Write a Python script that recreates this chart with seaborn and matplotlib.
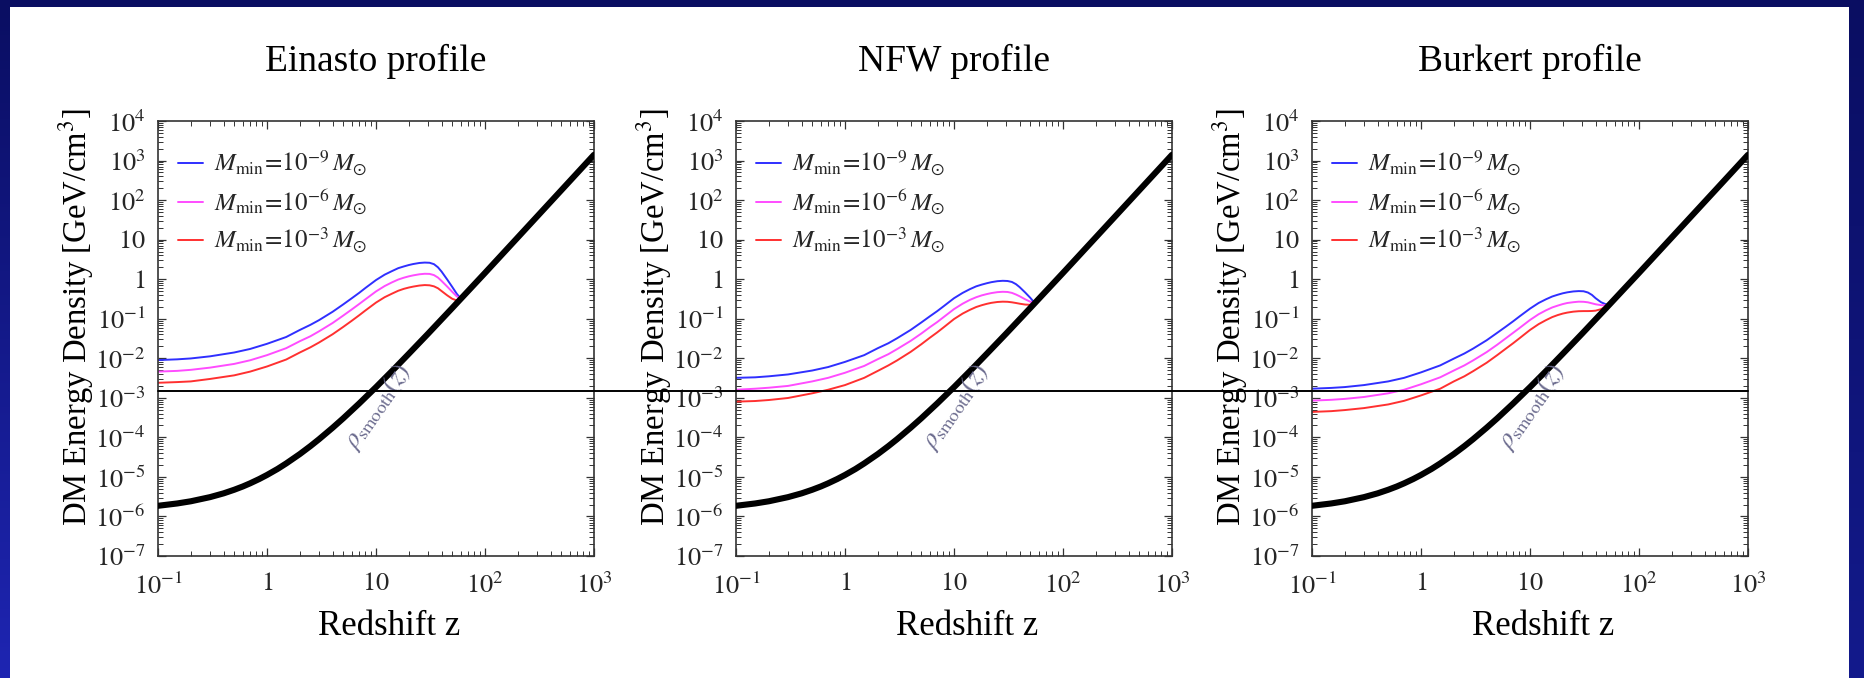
import numpy as np
import pandas as pd
import matplotlib
matplotlib.use('Agg')
import matplotlib.pyplot as plt
import seaborn as sns
from matplotlib.lines import Line2D
from matplotlib.patches import Rectangle
from matplotlib.ticker import FixedLocator, LogLocator, NullFormatter

# ---------------- data ----------------
TITLES = ['Einasto profile', 'NFW profile', 'Burkert profile']
LEGEND_LABELS = [r'$M_{\rm min}\!=\!10^{-9}\,M_{\odot}$',
                 r'$M_{\rm min}\!=\!10^{-6}\,M_{\odot}$',
                 r'$M_{\rm min}\!=\!10^{-3}\,M_{\odot}$']
X_LABEL = 'Redshift z'
Y_LABEL = r'DM Energy Density [GeV/cm$^3$]'
SMOOTH_LABEL = r'$\rho_{\rm smooth}(z)$'

X_TICKS = [0.1, 1, 10, 100, 1000]
X_TICK_LABELS = [r'$10^{-1}$', r'$1$', r'$10$', r'$10^{2}$', r'$10^{3}$']
Y_TICKS = [1e-7, 1e-6, 1e-5, 1e-4, 1e-3, 1e-2, 1e-1, 1, 10, 1e2, 1e3, 1e4]
Y_TICK_LABELS = [r'$10^{-7}$', r'$10^{-6}$', r'$10^{-5}$', r'$10^{-4}$', r'$10^{-3}$',
                 r'$10^{-2}$', r'$10^{-1}$', r'$1$', r'$10$', r'$10^{2}$', r'$10^{3}$',
                 r'$10^{4}$']

# smooth background density (thick black curve)
BLACK_Z = [0.1, 0.15, 0.2, 0.3, 0.4, 0.5, 0.6, 0.7, 0.85, 1, 1.25, 1.5, 2, 2.5, 3,
           4, 5, 7, 10, 15, 20, 30, 50, 100, 200, 500, 1000]
BLACK_RHO = [1.86e-6, 2.13e-6, 2.42e-6, 3.08e-6, 3.84e-6, 4.73e-6, 5.73e-6, 6.88e-6,
             8.86e-6, 1.12e-5, 1.59e-5, 2.19e-5, 3.78e-5, 6.0e-5, 8.96e-5, 1.75e-4,
             3.02e-4, 7.17e-4, 1.86e-3, 5.73e-3, 1.30e-2, 4.17e-2, 0.186, 1.44, 11.4,
             176, 1400]

# horizontal reference line across the three panels
HLINE_RHO = 1.5e-3

# Einasto
EIN_Z = [0.1, 0.15, 0.2, 0.3, 0.5, 0.7, 1, 1.5, 2, 2.5, 3, 4, 5, 6, 7, 8, 10, 12,
         14, 16, 18, 20, 22, 25, 28, 31, 34, 37, 40, 45, 50, 55, 60]
EIN_BLUE = [0.0090, 0.0094, 0.0099, 0.0112, 0.0140, 0.0172, 0.0232, 0.0345, 0.052,
            0.070, 0.092, 0.15, 0.23, 0.33, 0.45, 0.60, 0.95, 1.3, 1.6, 1.9, 2.1,
            2.28, 2.42, 2.57, 2.63, 2.6, 2.4, 2.0, 1.55, 0.98, 0.64, 0.43, 0.32]
EIN_PINK = [0.0046, 0.0048, 0.0051, 0.0058, 0.0072, 0.0089, 0.012, 0.018, 0.027,
            0.036, 0.048, 0.078, 0.12, 0.172, 0.235, 0.31, 0.49, 0.67, 0.83, 0.98,
            1.09, 1.18, 1.25, 1.33, 1.37, 1.36, 1.27, 1.1, 0.9, 0.65, 0.48, 0.37, 0.32]
EIN_RED = [0.0024, 0.0025, 0.0026, 0.0030, 0.0037, 0.0046, 0.0062, 0.0093, 0.014,
           0.0189, 0.025, 0.0405, 0.062, 0.089, 0.122, 0.162, 0.256, 0.35, 0.43,
           0.51, 0.57, 0.615, 0.65, 0.69, 0.71, 0.70, 0.66, 0.59, 0.5, 0.39, 0.32,
           0.29, 0.32]

# NFW
NFW_Z = [0.1, 0.15, 0.2, 0.3, 0.5, 0.7, 1, 1.5, 2, 2.5, 3, 4, 5, 6, 7, 8, 10, 12,
         14, 16, 18, 20, 22, 25, 28, 31, 34, 37, 40, 45, 50, 55]
NFW_BLUE = [0.0032, 0.0033, 0.0035, 0.0039, 0.0049, 0.0060, 0.0081, 0.012, 0.018,
            0.024, 0.032, 0.052, 0.08, 0.115, 0.155, 0.205, 0.33, 0.45, 0.56, 0.66,
            0.73, 0.79, 0.84, 0.89, 0.91, 0.9, 0.85, 0.75, 0.63, 0.46, 0.34, 0.25]
NFW_PINK = [0.0016, 0.0017, 0.0018, 0.0020, 0.0026, 0.0032, 0.0043, 0.0064, 0.0095,
            0.0127, 0.017, 0.0275, 0.042, 0.061, 0.082, 0.109, 0.175, 0.24, 0.30,
            0.35, 0.39, 0.42, 0.445, 0.47, 0.48, 0.475, 0.45, 0.41, 0.37, 0.31, 0.27,
            0.25]
NFW_RED = [0.0008, 0.00083, 0.00088, 0.00099, 0.0013, 0.0016, 0.0021, 0.0032,
           0.0048, 0.0066, 0.0088, 0.0145, 0.0225, 0.033, 0.045, 0.06, 0.098, 0.135,
           0.168, 0.198, 0.22, 0.238, 0.252, 0.265, 0.27, 0.268, 0.26, 0.25, 0.24,
           0.228, 0.225, 0.25]

# Burkert
BUR_Z = [0.1, 0.15, 0.2, 0.3, 0.5, 0.7, 1, 1.5, 2, 2.5, 3, 4, 5, 6, 7, 8, 10, 12,
         14, 16, 18, 20, 22, 25, 28, 31, 34, 37, 40, 45, 52]
BUR_BLUE = [0.0017, 0.00178, 0.00187, 0.0021, 0.0026, 0.0032, 0.0044, 0.0066,
            0.0098, 0.0132, 0.0175, 0.0285, 0.044, 0.063, 0.086, 0.114, 0.18, 0.25,
            0.31, 0.365, 0.405, 0.44, 0.465, 0.49, 0.5, 0.495, 0.46, 0.4, 0.33, 0.26,
            0.22]
BUR_PINK = [0.00085, 0.00089, 0.00094, 0.00105, 0.0013, 0.0016, 0.0022, 0.0033,
            0.0049, 0.0066, 0.0088, 0.0143, 0.022, 0.032, 0.044, 0.058, 0.093, 0.13,
            0.163, 0.193, 0.215, 0.235, 0.25, 0.262, 0.27, 0.268, 0.26, 0.245, 0.232,
            0.22, 0.22]
BUR_RED = [0.00044, 0.00046, 0.00049, 0.00055, 0.00068, 0.00084, 0.00115, 0.0017,
           0.0026, 0.0035, 0.0047, 0.0077, 0.012, 0.0175, 0.024, 0.032, 0.052, 0.073,
           0.092, 0.11, 0.124, 0.135, 0.143, 0.151, 0.155, 0.156, 0.156, 0.157, 0.16,
           0.175, 0.22]

PANELS = [
    (EIN_Z, [EIN_BLUE, EIN_PINK, EIN_RED]),
    (NFW_Z, [NFW_BLUE, NFW_PINK, NFW_RED]),
    (BUR_Z, [BUR_BLUE, BUR_PINK, BUR_RED]),
]
SERIES_COLORS = ['#2f2fff', '#ff4cff', '#ff3030']

# ---------------- style ----------------
sns.set_theme(style='white')
plt.rcParams['font.family'] = ['Liberation Serif', 'DejaVu Serif']
plt.rcParams['mathtext.fontset'] = 'stix'

W, H = 1865, 678
fig = plt.figure(figsize=(W / 100, H / 100), dpi=100)
fig.patch.set_facecolor('white')

# navy slide frame
fig.add_artist(Rectangle((0, 1 - 7 / H), 1, 7 / H, transform=fig.transFigure,
                         facecolor='#0a0e62', edgecolor='none', zorder=0))
for x0, w, c_bot in [(0, 10, '#1e25b2'), (W - 16, 16, '#131a8c')]:
    gax = fig.add_axes([x0 / W, 0, w / W, 1])
    top = np.array(matplotlib.colors.to_rgb('#0a0e62'))
    bot = np.array(matplotlib.colors.to_rgb(c_bot))
    t = np.linspace(0, 1, 256)[:, None]
    grad = (top[None, :] * (1 - t) + bot[None, :] * t)[:, None, :]
    gax.imshow(grad, aspect='auto', extent=[0, 1, 0, 1])
    gax.set_axis_off()

ax_lefts = [158, 736, 1312]
ax_w, ax_top, ax_bot = 436, 121, 556
axes = []
for i, (zz, series) in enumerate(PANELS):
    ax = fig.add_axes([ax_lefts[i] / W, 1 - ax_bot / H, ax_w / W, (ax_bot - ax_top) / H])
    axes.append(ax)
    ax.set_xscale('log')
    ax.set_yscale('log')
    for vals, col, lab in zip(series, SERIES_COLORS, LEGEND_LABELS):
        sns.lineplot(x=zz, y=vals, ax=ax, color=col, lw=1.4, label=lab,
                     sort=False, estimator=None)
    sns.lineplot(x=BLACK_Z, y=BLACK_RHO, ax=ax, color='black', lw=4.4,
                 sort=False, estimator=None, zorder=5)
    ax.set_xlim(0.1, 1000)
    ax.set_ylim(1e-7, 1e4)

    ax.xaxis.set_major_locator(FixedLocator(X_TICKS))
    ax.set_xticklabels(X_TICK_LABELS)
    ax.yaxis.set_major_locator(FixedLocator(Y_TICKS))
    ax.set_yticklabels(Y_TICK_LABELS)
    ax.xaxis.set_minor_locator(LogLocator(base=10, subs=np.arange(2, 10), numticks=100))
    ax.yaxis.set_minor_locator(LogLocator(base=10, subs=np.arange(2, 10), numticks=100))
    ax.xaxis.set_minor_formatter(NullFormatter())
    ax.yaxis.set_minor_formatter(NullFormatter())
    ax.tick_params(which='both', direction='in', top=True, right=True,
                   bottom=True, left=True, color='#333333')
    ax.tick_params(which='major', length=5.5, width=0.9, labelsize=19)
    ax.tick_params(which='minor', length=3.5, width=0.7)
    ax.tick_params(axis='y', which='major', pad=9)
    ax.tick_params(axis='x', which='major', pad=12)
    for sp in ax.spines.values():
        sp.set_color('#333333')
        sp.set_linewidth(1.2)
    ax.grid(False)

    ax.set_title(TITLES[i], fontsize=27, pad=36, color='black')
    ax.set_xlabel(X_LABEL, fontsize=25, color='black')
    ax.xaxis.set_label_coords(0.53, -0.125)
    ax.set_ylabel(Y_LABEL, fontsize=23.5, color='black')
    ax.yaxis.set_label_coords(-0.142, 0.55)

    ax.text(10.4, 5.9e-4, SMOOTH_LABEL, fontsize=19, rotation=55, color='#6b6b8e',
            ha='center', va='center', zorder=6)

    ax.legend(loc='upper left', bbox_to_anchor=(0.046, 1 - 28 / 435), frameon=False,
              fontsize=18, handlelength=1.0, handletextpad=0.45, labelspacing=0.37,
              borderpad=0, borderaxespad=0)

# horizontal line spanning all three panels
y_disp = axes[0].transData.transform((1.0, HLINE_RHO))[1]
y_fig = fig.transFigure.inverted().transform((0, y_disp))[1]
x0 = axes[0].get_position().x0
x1 = axes[2].get_position().x1
fig.add_artist(Line2D([x0, x1], [y_fig, y_fig], transform=fig.transFigure,
                      color='black', lw=1.4, zorder=20))

fig.savefig('out.png', dpi=100, facecolor='white')
